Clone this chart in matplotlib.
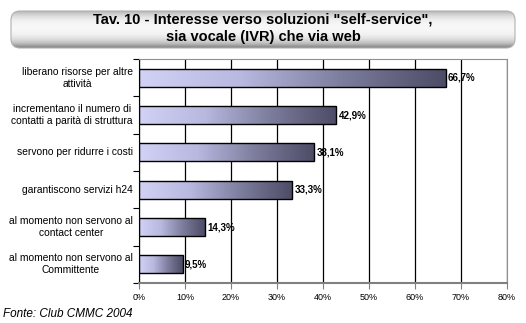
import numpy as np
import matplotlib.pyplot as plt
from matplotlib.colors import LinearSegmentedColormap
from matplotlib.patches import FancyBboxPatch

categories = [
    "liberano risorse per altre\nattività",
    "incrementano il numero di\ncontatti a parità di struttura",
    "servono per ridurre i costi",
    "garantiscono servizi h24",
    "al momento non servono al\ncontact center",
    "al momento non servono al\nCommittente",
]
values = [66.7, 42.9, 38.1, 33.3, 14.3, 9.5]
value_labels = ["66,7%", "42,9%", "38,1%", "33,3%", "14,3%", "9,5%"]
xticks = [0, 10, 20, 30, 40, 50, 60, 70, 80]

bar_cmap = LinearSegmentedColormap.from_list(
    "bar", ["#d2d2f6", "#b8b8e0", "#7c7c9c", "#4c4c66"])

fig = plt.figure(figsize=(5.26, 3.23), dpi=100)

# title box with grey shading
tax = fig.add_axes([0, 0, 1, 1])
tax.set_xlim(0, 526)
tax.set_ylim(323, 0)
tax.axis("off")
shade = np.linspace(0, 1, 100).reshape(-1, 1)
shade = 1 - 4 * (shade - 0.45) ** 2
box = FancyBboxPatch((11, 11), 504, 37, boxstyle="round,pad=0,rounding_size=9",
                     facecolor="none", edgecolor="#b0b0b0", lw=0.8)
tax.add_patch(box)
img = tax.imshow(shade, extent=(11, 515, 48, 11), cmap="Greys_r", vmin=-1.2, vmax=1.15,
                 aspect="auto", interpolation="bilinear")
img.set_clip_path(box)
tax.text(263, 20, 'Tav. 10 - Interesse verso soluzioni "self-service",', ha="center",
         va="center", fontsize=10.5, fontweight="bold", family="Liberation Sans")
tax.text(263, 37, "sia vocale (IVR) che via web", ha="center", va="center",
         fontsize=10.5, fontweight="bold", family="Liberation Sans")
tax.text(3, 314, "Fonte: Club CMMC 2004", ha="left", va="center", fontsize=8.5,
         style="italic", family="Liberation Sans")

ax = fig.add_axes([139 / 526, 1 - 283 / 323, 368 / 526, 224 / 323])
y = np.arange(len(categories))
bars = ax.barh(y, values, height=0.48, facecolor="none", edgecolor="black", lw=1, zorder=3)
grad = np.linspace(0, 1, 256).reshape(1, -1)
for b, lab in zip(bars, value_labels):
    x0, y0, w, h = b.get_x(), b.get_y(), b.get_width(), b.get_height()
    ax.imshow(grad, extent=(x0, x0 + w, y0 + h, y0), cmap=bar_cmap, aspect="auto",
              interpolation="bilinear", zorder=2)
    ax.text(x0 + w + 0.5, y0 + h / 2, lab, ha="left", va="center", fontsize=7,
            fontweight="bold", family="Liberation Sans", zorder=4)

# category names: right edge next to the axis, lines centred on each other
for yi, cat in zip(y, categories):
    ax.text(-0.017, yi, cat, transform=ax.get_yaxis_transform(), ha="right",
            va="center", multialignment="center", fontsize=7.4,
            family="Liberation Sans", linespacing=1.25)

ax.set_xlim(0, 80)
ax.set_ylim(len(categories) - 0.5, -0.5)
ax.set_xticks(xticks)
ax.set_xticklabels([f"{t}%" for t in xticks], fontsize=6.5, family="Liberation Sans")
ax.set_yticks(np.arange(len(categories) + 1) - 0.5)
ax.set_yticklabels([])
ax.tick_params(axis="y", length=4, color="black")
ax.tick_params(axis="x", length=4, color="#808080", pad=3)
ax.xaxis.grid(True, color="black", lw=0.9, zorder=1)
ax.set_axisbelow(True)
for s in ["top", "right"]:
    ax.spines[s].set_color("#909090")
ax.spines["bottom"].set_color("#808080")
ax.spines["bottom"].set_linewidth(1.5)
ax.spines["left"].set_color("black")

fig.savefig("out.png", dpi=100)
